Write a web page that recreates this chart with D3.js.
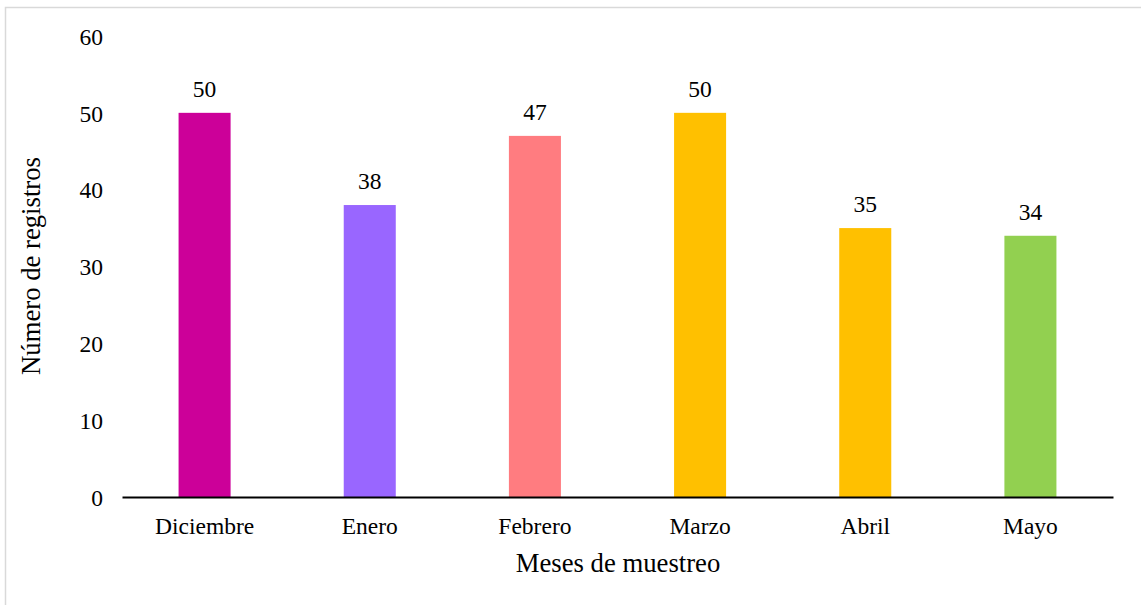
<!DOCTYPE html>
<html>
<head>
<meta charset="utf-8">
<script src="https://cdn.jsdelivr.net/npm/d3@7"></script>
<style>
  html, body { margin: 0; padding: 0; background: #fff; }
  svg { display: block; }
  svg text { font-family: "Liberation Serif", "Times New Roman", serif; fill: #000; }
</style>
</head>
<body>
<svg id="chart" width="1141" height="605"></svg>
<script>
// Registros por mes de muestreo
const months = ["Diciembre", "Enero", "Febrero", "Marzo", "Abril", "Mayo"];
const counts = [50, 38, 47, 50, 35, 34];
const barColors = ["#cc0099", "#9966ff", "#ff7c80", "#ffc000", "#ffc000", "#92d050"];
const yTicks = [0, 10, 20, 30, 40, 50, 60];

const svg = d3.select("#chart");

// frame
svg.append("rect")
  .attr("x", 5.5).attr("y", 7.5)
  .attr("width", 1150).attr("height", 620)
  .attr("fill", "#fff")
  .attr("stroke", "#d9d9d9").attr("stroke-width", 1.5);

const x = d3.scaleBand()
  .domain(months)
  .range([122, 1113])
  .paddingInner(0.685)
  .paddingOuter(0.3425);

const y = d3.scaleLinear()
  .domain([0, 60])
  .range([497, 36]);

// bars
svg.append("g").selectAll("rect")
  .data(months)
  .join("rect")
  .attr("x", d => x(d))
  .attr("width", x.bandwidth())
  .attr("y", (d, i) => y(counts[i]))
  .attr("height", (d, i) => y(0) - y(counts[i]))
  .attr("fill", (d, i) => barColors[i]);

// value labels
svg.append("g").selectAll("text")
  .data(months)
  .join("text")
  .attr("x", d => x(d) + x.bandwidth() / 2)
  .attr("y", (d, i) => y(counts[i]) - 16)
  .attr("text-anchor", "middle")
  .attr("font-size", 23.5)
  .text((d, i) => counts[i]);

// y axis (labels only)
const yAxis = svg.append("g")
  .attr("transform", "translate(103,0)")
  .call(d3.axisLeft(y).tickValues(yTicks).tickSize(0).tickPadding(0));
yAxis.select(".domain").remove();
yAxis.attr("font-family", null).attr("font-size", null);
yAxis.selectAll("text")
  .attr("font-size", 23.5)
  .attr("dy", "0.35em");

// x axis
const xAxis = svg.append("g")
  .attr("transform", `translate(0,${y(0)})`)
  .call(d3.axisBottom(x).tickSize(0).tickPadding(20));
xAxis.attr("font-family", null).attr("font-size", null);
xAxis.select(".domain")
  .attr("stroke", "#000").attr("stroke-width", 2);
xAxis.selectAll("text")
  .attr("font-size", 23.5);

// axis titles
svg.append("text")
  .attr("x", 618).attr("y", 572)
  .attr("text-anchor", "middle")
  .attr("font-size", 26.7)
  .text("Meses de muestreo");

svg.append("text")
  .attr("transform", "translate(40,266) rotate(-90)")
  .attr("text-anchor", "middle")
  .attr("font-size", 26.7)
  .text("Número de registros");
</script>
</body>
</html>
